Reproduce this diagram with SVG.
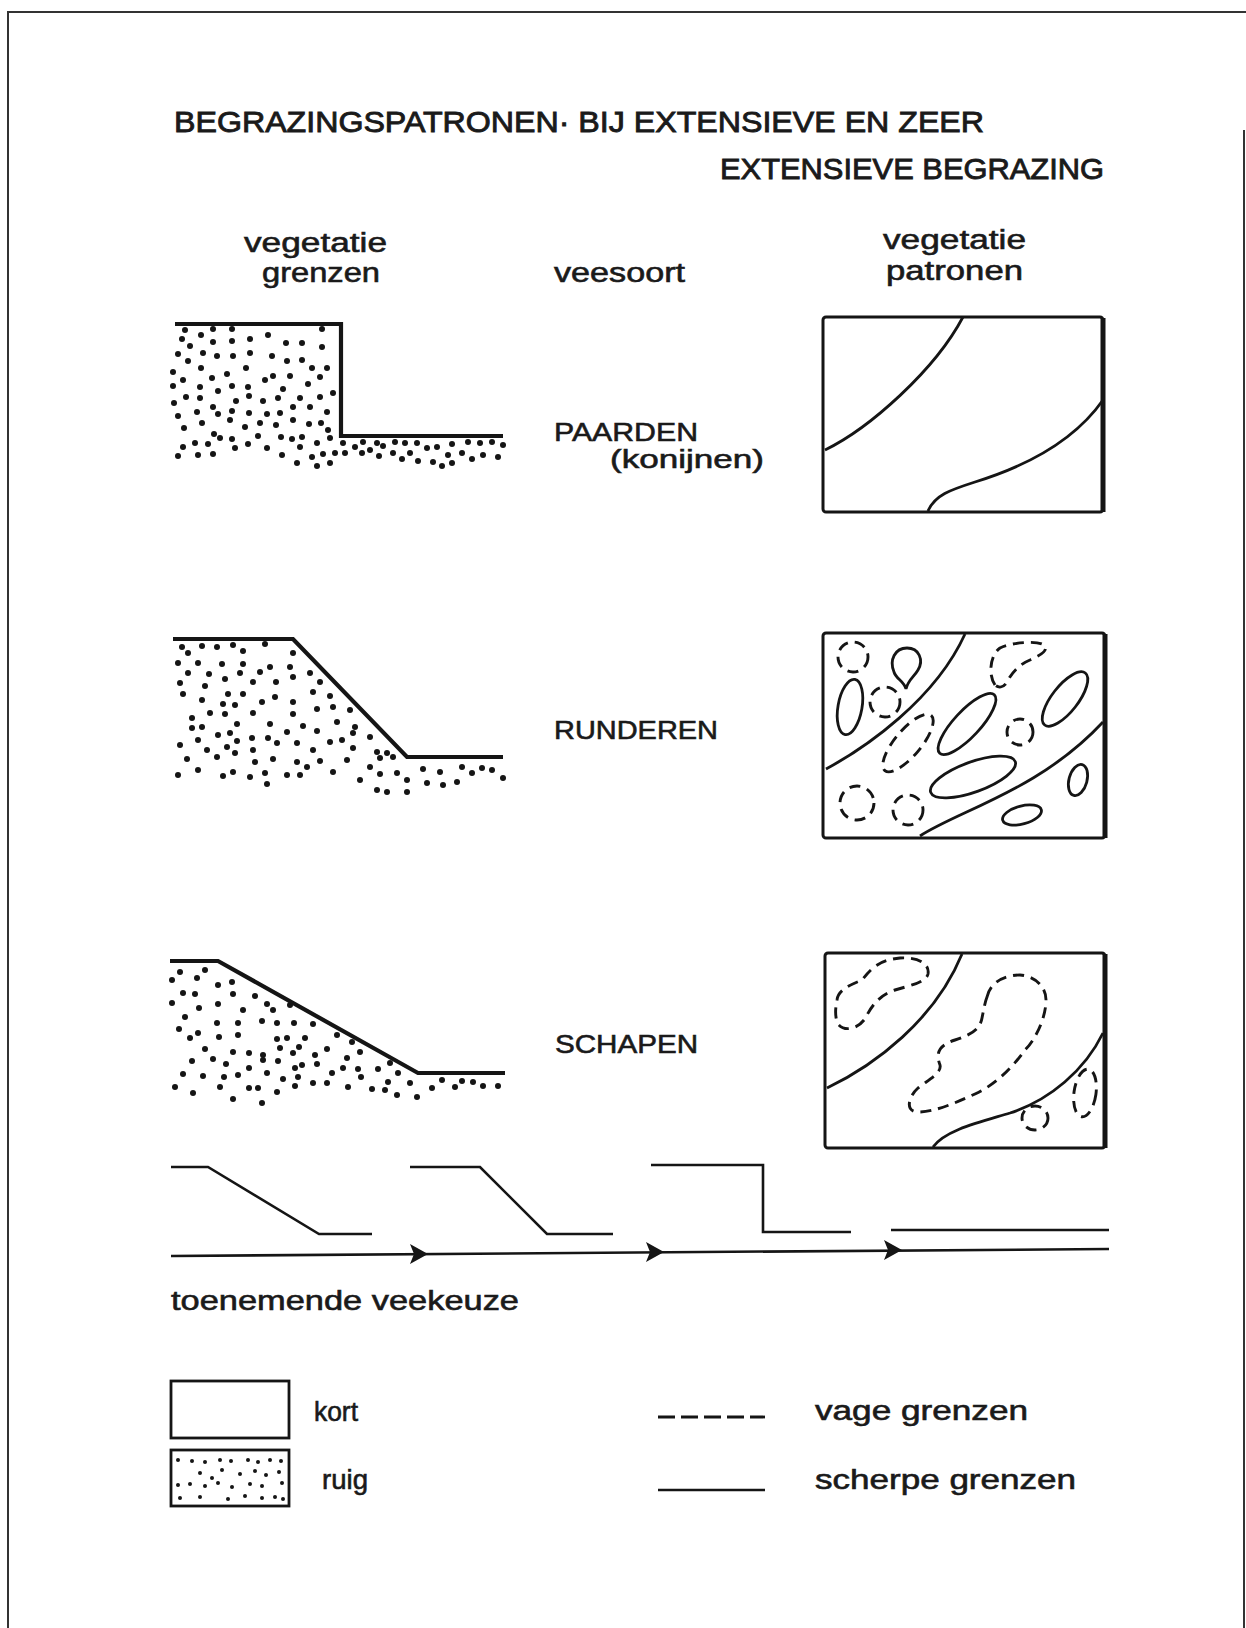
<svg xmlns="http://www.w3.org/2000/svg" width="1246" height="1628" viewBox="0 0 1246 1628">
<style>
text{font-family:"Liberation Sans","DejaVu Sans",sans-serif;fill:#1a1a1a;stroke:#1a1a1a;stroke-width:0.6}
.t{font-size:30px;stroke-width:0.9}
.h{font-size:27px}
.l{font-size:26px}
.prof{fill:none;stroke:#151515;stroke-width:4.2;stroke-linejoin:miter}
.thin{fill:none;stroke:#151515;stroke-width:2.6}
.box{fill:#fff;stroke:#151515;stroke-width:3}
.sol{fill:none;stroke:#151515;stroke-width:2.8}
.dsh{fill:none;stroke:#151515;stroke-width:2.9;stroke-dasharray:11 7}
.d circle{fill:#151515}
.border{fill:none;stroke:#333;stroke-width:2}
.arrow{fill:#151515}
</style>
<rect width="1246" height="1628" fill="#fff"/>
<g id="page-border">
<path class="border" d="M8,1628 V12 H1246"/>
<path class="border" d="M1244,130 V1628"/>
</g>
<g id="title">
<text class="t" x="174" y="132" textLength="810" lengthAdjust="spacingAndGlyphs">BEGRAZINGSPATRONEN· BIJ EXTENSIEVE EN ZEER</text>
<text class="t" x="720" y="179" textLength="384" lengthAdjust="spacingAndGlyphs">EXTENSIEVE BEGRAZING</text>
</g>
<g id="header-grenzen">
<text class="h" x="244" y="252" textLength="143" lengthAdjust="spacingAndGlyphs">vegetatie</text>
<text class="h" x="262" y="282" textLength="118" lengthAdjust="spacingAndGlyphs">grenzen</text>
</g>
<g id="header-veesoort">
<text class="h" x="554" y="282" textLength="131" lengthAdjust="spacingAndGlyphs">veesoort</text>
</g>
<g id="header-patronen">
<text class="h" x="883" y="249" textLength="143" lengthAdjust="spacingAndGlyphs">vegetatie</text>
<text class="h" x="886" y="280" textLength="137" lengthAdjust="spacingAndGlyphs">patronen</text>
</g>

<g id="profile-paarden">
<g class="d">
<circle cx="185" cy="330" r="3"/><circle cx="213" cy="329" r="3"/><circle cx="232" cy="329" r="3"/><circle cx="322" cy="329" r="3"/>
<circle cx="182" cy="339" r="3"/><circle cx="201" cy="335" r="3"/><circle cx="232" cy="341" r="3"/><circle cx="213" cy="342" r="3"/><circle cx="250" cy="339" r="3"/><circle cx="268" cy="335" r="3"/><circle cx="286" cy="343" r="3"/><circle cx="302" cy="343" r="3"/><circle cx="322" cy="347" r="3"/><circle cx="190" cy="346" r="3"/>
<circle cx="178" cy="354" r="3"/><circle cx="203" cy="353" r="3"/><circle cx="217" cy="356" r="3"/><circle cx="233" cy="356" r="3"/><circle cx="250" cy="353" r="3"/><circle cx="272" cy="356" r="3"/><circle cx="287" cy="361" r="3"/><circle cx="302" cy="360" r="3"/><circle cx="188" cy="361" r="3"/>
<circle cx="173" cy="372" r="3"/><circle cx="201" cy="368" r="3"/><circle cx="246" cy="368" r="3"/><circle cx="227" cy="374" r="3"/><circle cx="212" cy="378" r="3"/><circle cx="265" cy="380" r="3"/><circle cx="273" cy="376" r="3"/><circle cx="290" cy="376" r="3"/><circle cx="312" cy="368" r="3"/><circle cx="327" cy="368" r="3"/><circle cx="183" cy="380" r="3"/><circle cx="320" cy="377" r="3"/>
<circle cx="173" cy="386" r="3"/><circle cx="200" cy="387" r="3"/><circle cx="218" cy="391" r="3"/><circle cx="232" cy="386" r="3"/><circle cx="248" cy="387" r="3"/><circle cx="283" cy="389" r="3"/><circle cx="308" cy="384" r="3"/><circle cx="333" cy="393" r="3"/>
<circle cx="174" cy="403" r="3"/><circle cx="186" cy="397" r="3"/><circle cx="200" cy="398" r="3"/><circle cx="213" cy="407" r="3"/><circle cx="236" cy="401" r="3"/><circle cx="249" cy="396" r="3"/><circle cx="263" cy="401" r="3"/><circle cx="278" cy="398" r="3"/><circle cx="300" cy="398" r="3"/><circle cx="320" cy="397" r="3"/><circle cx="327" cy="412" r="3"/>
<circle cx="178" cy="416" r="3"/><circle cx="197" cy="412" r="3"/><circle cx="218" cy="414" r="3"/><circle cx="232" cy="411" r="3"/><circle cx="249" cy="413" r="3"/><circle cx="267" cy="414" r="3"/><circle cx="280" cy="413" r="3"/><circle cx="293" cy="407" r="3"/><circle cx="310" cy="407" r="3"/>
<circle cx="184" cy="428" r="3"/><circle cx="202" cy="423" r="3"/><circle cx="230" cy="420" r="3"/><circle cx="245" cy="427" r="3"/><circle cx="260" cy="423" r="3"/><circle cx="276" cy="425" r="3"/><circle cx="293" cy="420" r="3"/><circle cx="309" cy="424" r="3"/><circle cx="321" cy="423" r="3"/><circle cx="328" cy="430" r="3"/>
<circle cx="214" cy="434" r="3"/><circle cx="232" cy="439" r="3"/><circle cx="258" cy="436" r="3"/><circle cx="281" cy="437" r="3"/><circle cx="292" cy="439" r="3"/><circle cx="302" cy="437" r="3"/><circle cx="317" cy="443" r="3"/>
<circle cx="183" cy="447" r="3"/><circle cx="195" cy="443" r="3"/><circle cx="208" cy="444" r="3"/><circle cx="220" cy="438" r="3"/><circle cx="235" cy="448" r="3"/><circle cx="248" cy="444" r="3"/><circle cx="267" cy="448" r="3"/><circle cx="300" cy="447" r="3"/><circle cx="330" cy="438" r="3"/><circle cx="343" cy="443" r="3"/><circle cx="355" cy="447" r="3"/><circle cx="363" cy="442" r="3"/><circle cx="370" cy="450" r="3"/><circle cx="377" cy="443" r="3"/><circle cx="383" cy="446" r="3"/><circle cx="395" cy="442" r="3"/><circle cx="405" cy="443" r="3"/><circle cx="417" cy="443" r="3"/><circle cx="427" cy="448" r="3"/><circle cx="437" cy="447" r="3"/><circle cx="452" cy="444" r="3"/><circle cx="468" cy="442" r="3"/><circle cx="480" cy="443" r="3"/><circle cx="492" cy="442" r="3"/><circle cx="503" cy="445" r="3"/>
<circle cx="178" cy="456" r="3"/><circle cx="198" cy="455" r="3"/><circle cx="213" cy="454" r="3"/><circle cx="282" cy="455" r="3"/><circle cx="297" cy="463" r="3"/><circle cx="312" cy="457" r="3"/><circle cx="317" cy="466" r="3"/><circle cx="323" cy="454" r="3"/><circle cx="330" cy="463" r="3"/><circle cx="335" cy="453" r="3"/><circle cx="345" cy="453" r="3"/><circle cx="362" cy="453" r="3"/><circle cx="379" cy="456" r="3"/><circle cx="393" cy="453" r="3"/><circle cx="402" cy="459" r="3"/><circle cx="410" cy="453" r="3"/><circle cx="418" cy="461" r="3"/><circle cx="433" cy="462" r="3"/><circle cx="442" cy="466" r="3"/><circle cx="448" cy="455" r="3"/><circle cx="452" cy="463" r="3"/><circle cx="462" cy="453" r="3"/><circle cx="472" cy="459" r="3"/><circle cx="483" cy="455" r="3"/><circle cx="498" cy="457" r="3"/>
</g>
<path class="prof" d="M175,324 H341 V436 H503"/>
</g>
<g id="label-paarden">
<text class="l" x="554" y="441" textLength="144" lengthAdjust="spacingAndGlyphs">PAARDEN</text>
<text class="l" x="610" y="468" textLength="154" lengthAdjust="spacingAndGlyphs">(konijnen)</text>
</g>
<g id="pattern-paarden">
<rect class="box" x="823" y="317" width="280" height="195" rx="3"/>
<path d="M1103,318 V512" stroke="#151515" stroke-width="5"/>
<path class="sol" d="M825,450 C870,428 935,370 963,317"/>
<path class="sol" d="M928,511 C935,495 950,490 975,482 C1030,465 1075,440 1103,400"/>
</g>

<g id="profile-runderen">
<g class="d">
<circle cx="182" cy="647" r="3"/><circle cx="202" cy="646" r="3"/><circle cx="217" cy="647" r="3"/><circle cx="233" cy="645" r="3"/><circle cx="243" cy="651" r="3"/><circle cx="265" cy="644" r="3"/><circle cx="188" cy="653" r="3"/><circle cx="293" cy="653" r="3"/>
<circle cx="178" cy="663" r="3"/><circle cx="198" cy="663" r="3"/><circle cx="222" cy="664" r="3"/><circle cx="243" cy="664" r="3"/><circle cx="260" cy="672" r="3"/><circle cx="270" cy="667" r="3"/><circle cx="290" cy="667" r="3"/><circle cx="310" cy="673" r="3"/>
<circle cx="188" cy="673" r="3"/><circle cx="209" cy="674" r="3"/><circle cx="225" cy="679" r="3"/><circle cx="240" cy="673" r="3"/><circle cx="253" cy="682" r="3"/><circle cx="276" cy="682" r="3"/><circle cx="293" cy="677" r="3"/><circle cx="320" cy="682" r="3"/>
<circle cx="180" cy="683" r="3"/><circle cx="205" cy="686" r="3"/><circle cx="228" cy="694" r="3"/><circle cx="243" cy="694" r="3"/><circle cx="262" cy="702" r="3"/><circle cx="275" cy="697" r="3"/><circle cx="293" cy="702" r="3"/><circle cx="313" cy="692" r="3"/><circle cx="330" cy="696" r="3"/>
<circle cx="183" cy="694" r="3"/><circle cx="202" cy="700" r="3"/><circle cx="223" cy="704" r="3"/><circle cx="235" cy="705" r="3"/><circle cx="253" cy="713" r="3"/><circle cx="270" cy="724" r="3"/><circle cx="293" cy="714" r="3"/><circle cx="317" cy="709" r="3"/><circle cx="333" cy="707" r="3"/><circle cx="350" cy="710" r="3"/>
<circle cx="192" cy="718" r="3"/><circle cx="210" cy="713" r="3"/><circle cx="225" cy="714" r="3"/><circle cx="237" cy="724" r="3"/><circle cx="287" cy="732" r="3"/><circle cx="303" cy="726" r="3"/><circle cx="317" cy="731" r="3"/><circle cx="337" cy="722" r="3"/><circle cx="355" cy="727" r="3"/>
<circle cx="192" cy="728" r="3"/><circle cx="202" cy="727" r="3"/><circle cx="218" cy="735" r="3"/><circle cx="230" cy="733" r="3"/><circle cx="252" cy="738" r="3"/><circle cx="268" cy="738" r="3"/><circle cx="297" cy="743" r="3"/><circle cx="313" cy="750" r="3"/><circle cx="330" cy="742" r="3"/><circle cx="342" cy="740" r="3"/><circle cx="353" cy="733" r="3"/><circle cx="370" cy="737" r="3"/>
<circle cx="180" cy="745" r="3"/><circle cx="198" cy="740" r="3"/><circle cx="207" cy="750" r="3"/><circle cx="227" cy="747" r="3"/><circle cx="237" cy="741" r="3"/><circle cx="253" cy="750" r="3"/><circle cx="277" cy="743" r="3"/><circle cx="353" cy="748" r="3"/><circle cx="377" cy="752" r="3"/><circle cx="387" cy="753" r="3"/>
<circle cx="187" cy="759" r="3"/><circle cx="217" cy="757" r="3"/><circle cx="235" cy="753" r="3"/><circle cx="255" cy="762" r="3"/><circle cx="273" cy="759" r="3"/><circle cx="297" cy="762" r="3"/><circle cx="320" cy="761" r="3"/><circle cx="347" cy="760" r="3"/><circle cx="370" cy="767" r="3"/><circle cx="380" cy="758" r="3"/><circle cx="393" cy="757" r="3"/>
<circle cx="178" cy="775" r="3"/><circle cx="198" cy="770" r="3"/><circle cx="223" cy="776" r="3"/><circle cx="233" cy="772" r="3"/><circle cx="250" cy="777" r="3"/><circle cx="265" cy="773" r="3"/><circle cx="267" cy="784" r="3"/><circle cx="287" cy="775" r="3"/><circle cx="300" cy="775" r="3"/><circle cx="307" cy="767" r="3"/><circle cx="333" cy="772" r="3"/><circle cx="360" cy="780" r="3"/><circle cx="380" cy="774" r="3"/><circle cx="397" cy="773" r="3"/><circle cx="407" cy="780" r="3"/><circle cx="423" cy="769" r="3"/><circle cx="440" cy="772" r="3"/><circle cx="462" cy="767" r="3"/><circle cx="472" cy="773" r="3"/><circle cx="482" cy="768" r="3"/><circle cx="492" cy="770" r="3"/><circle cx="503" cy="778" r="3"/>
<circle cx="377" cy="790" r="3"/><circle cx="387" cy="792" r="3"/><circle cx="407" cy="792" r="3"/><circle cx="427" cy="783" r="3"/><circle cx="443" cy="785" r="3"/><circle cx="457" cy="782" r="3"/>
</g>
<path class="prof" d="M173,639 H293 L407,757 H503"/>
</g>
<g id="label-runderen">
<text class="l" x="554" y="739" textLength="164" lengthAdjust="spacingAndGlyphs">RUNDEREN</text>
</g>
<g id="pattern-runderen">
<rect class="box" x="823" y="633" width="282" height="205" rx="3"/>
<path d="M1105,634 V838" stroke="#151515" stroke-width="5"/>
<path class="sol" d="M826,769 C865,748 935,700 965,634"/>
<path class="sol" d="M920,836 C960,810 1040,790 1103,722"/>
<circle class="dsh" cx="853" cy="657" r="15"/>
<path class="sol" d="M906,689 C904,681 896,679 894,672 C889,660 895,648 907,648 C919,648 924,660 918,670 C914,677 908,680 906,689 Z"/>
<ellipse class="sol" cx="850" cy="707" rx="12" ry="28" transform="rotate(10 850 707)"/>
<circle class="dsh" cx="885" cy="702" r="15"/>
<ellipse class="dsh" cx="908" cy="743" rx="36" ry="13" transform="rotate(-50 908 743)"/>
<ellipse class="sol" cx="967" cy="724" rx="40" ry="13" transform="rotate(-47 967 724)"/>
<path class="dsh" d="M995,685 C988,675 990,655 1000,648 C1012,642 1040,640 1045,646 C1048,652 1038,656 1030,660 C1020,664 1012,672 1007,682 C1004,688 998,688 995,685 Z"/>
<ellipse class="sol" cx="1065" cy="699" rx="33" ry="13" transform="rotate(-52 1065 699)"/>
<circle class="dsh" cx="1020" cy="732" r="13"/>
<ellipse class="sol" cx="973" cy="777" rx="45" ry="15" transform="rotate(-20 973 777)"/>
<circle class="dsh" cx="857" cy="803" r="17"/>
<circle class="dsh" cx="908" cy="810" r="15"/>
<ellipse class="sol" cx="1078" cy="780" rx="9" ry="16" transform="rotate(15 1078 780)"/>
<ellipse class="sol" cx="1022" cy="815" rx="20" ry="9" transform="rotate(-15 1022 815)"/>
</g>

<g id="profile-schapen">
<g class="d">
<circle cx="180" cy="972" r="3"/><circle cx="205" cy="970" r="3"/><circle cx="172" cy="980" r="3"/><circle cx="197" cy="978" r="3"/><circle cx="218" cy="985" r="3"/><circle cx="232" cy="982" r="3"/>
<circle cx="183" cy="993" r="3"/><circle cx="195" cy="994" r="3"/><circle cx="233" cy="994" r="3"/><circle cx="255" cy="996" r="3"/><circle cx="267" cy="1004" r="3"/><circle cx="273" cy="1010" r="3"/>
<circle cx="172" cy="1003" r="3"/><circle cx="199" cy="1008" r="3"/><circle cx="218" cy="1004" r="3"/><circle cx="243" cy="1010" r="3"/><circle cx="290" cy="1005" r="3"/>
<circle cx="185" cy="1017" r="3"/><circle cx="217" cy="1023" r="3"/><circle cx="238" cy="1023" r="3"/><circle cx="262" cy="1021" r="3"/><circle cx="277" cy="1023" r="3"/><circle cx="294" cy="1023" r="3"/><circle cx="313" cy="1024" r="3"/>
<circle cx="179" cy="1029" r="3"/><circle cx="198" cy="1033" r="3"/><circle cx="190" cy="1038" r="3"/><circle cx="219" cy="1037" r="3"/><circle cx="238" cy="1035" r="3"/><circle cx="277" cy="1039" r="3"/><circle cx="287" cy="1038" r="3"/><circle cx="305" cy="1038" r="3"/><circle cx="337" cy="1035" r="3"/><circle cx="352" cy="1042" r="3"/>
<circle cx="205" cy="1049" r="3"/><circle cx="233" cy="1052" r="3"/><circle cx="249" cy="1053" r="3"/><circle cx="263" cy="1055" r="3"/><circle cx="280" cy="1048" r="3"/><circle cx="293" cy="1053" r="3"/><circle cx="299" cy="1047" r="3"/><circle cx="315" cy="1055" r="3"/><circle cx="327" cy="1049" r="3"/><circle cx="360" cy="1052" r="3"/>
<circle cx="192" cy="1061" r="3"/><circle cx="213" cy="1059" r="3"/><circle cx="226" cy="1064" r="3"/><circle cx="249" cy="1068" r="3"/><circle cx="263" cy="1060" r="3"/><circle cx="278" cy="1061" r="3"/><circle cx="295" cy="1068" r="3"/><circle cx="302" cy="1065" r="3"/><circle cx="317" cy="1064" r="3"/><circle cx="347" cy="1058" r="3"/><circle cx="343" cy="1068" r="3"/><circle cx="358" cy="1069" r="3"/><circle cx="378" cy="1069" r="3"/><circle cx="390" cy="1063" r="3"/><circle cx="398" cy="1073" r="3"/>
<circle cx="183" cy="1074" r="3"/><circle cx="203" cy="1076" r="3"/><circle cx="224" cy="1077" r="3"/><circle cx="238" cy="1075" r="3"/><circle cx="267" cy="1073" r="3"/><circle cx="283" cy="1079" r="3"/><circle cx="298" cy="1077" r="3"/><circle cx="332" cy="1073" r="3"/><circle cx="361" cy="1077" r="3"/><circle cx="388" cy="1082" r="3"/><circle cx="410" cy="1083" r="3"/>
<circle cx="175" cy="1087" r="3"/><circle cx="220" cy="1087" r="3"/><circle cx="249" cy="1088" r="3"/><circle cx="258" cy="1088" r="3"/><circle cx="277" cy="1092" r="3"/><circle cx="295" cy="1086" r="3"/><circle cx="313" cy="1083" r="3"/><circle cx="327" cy="1083" r="3"/><circle cx="348" cy="1087" r="3"/><circle cx="372" cy="1089" r="3"/><circle cx="385" cy="1090" r="3"/><circle cx="397" cy="1095" r="3"/><circle cx="417" cy="1097" r="3"/><circle cx="432" cy="1088" r="3"/><circle cx="442" cy="1080" r="3"/><circle cx="455" cy="1087" r="3"/><circle cx="462" cy="1081" r="3"/><circle cx="473" cy="1082" r="3"/><circle cx="483" cy="1086" r="3"/><circle cx="498" cy="1086" r="3"/>
<circle cx="193" cy="1093" r="3"/><circle cx="233" cy="1099" r="3"/><circle cx="262" cy="1103" r="3"/>
</g>
<path class="prof" d="M170,961 H218 L418,1073 H505"/>
</g>
<g id="label-schapen">
<text class="l" x="555" y="1053" textLength="143" lengthAdjust="spacingAndGlyphs">SCHAPEN</text>
</g>
<g id="pattern-schapen">
<rect class="box" x="825" y="953" width="280" height="195" rx="3"/>
<path d="M1105,954 V1148" stroke="#151515" stroke-width="5"/>
<path class="sol" d="M827,1088 C875,1065 935,1020 962,954"/>
<path class="sol" d="M933,1147 C945,1130 980,1122 1010,1113 C1050,1100 1085,1070 1103,1033"/>
<path class="dsh" d="M837,1000 C838,990 850,985 862,980 C870,970 878,960 900,958 C915,957 930,962 928,974 C926,982 912,985 895,990 C880,995 872,1005 866,1017 C860,1028 845,1033 838,1024 C834,1015 836,1006 837,1000 Z"/>
<path class="dsh" d="M987,997 C990,982 1005,975 1020,975 C1035,976 1047,987 1046,1002 C1045,1020 1035,1040 1025,1050 C1012,1068 995,1085 975,1094 C955,1103 935,1112 918,1112 C905,1112 908,1097 918,1088 C928,1080 942,1073 940,1065 C935,1052 940,1045 955,1040 C970,1035 980,1030 982,1018 C984,1008 985,1002 987,997 Z"/>
<ellipse class="dsh" cx="1035" cy="1118" rx="13" ry="12"/>
<ellipse class="dsh" cx="1085" cy="1093" rx="11" ry="24" transform="rotate(8 1085 1093)"/>
</g>

<g id="gradient-profiles">
<path class="thin" d="M171,1167 H208 L319,1234 H372"/>
<path class="thin" d="M410,1167 H480 L547,1234 H613"/>
<path class="thin" d="M651,1165 H763 V1232 H851"/>
<path class="thin" d="M891,1230 H1109"/>
</g>
<g id="connectors">
<path class="thin" d="M171,1256 L1109,1249"/>
<path class="arrow" d="M428,1254 L410,1244 L414,1254 L410,1264 Z"/>
<path class="arrow" d="M664,1252 L646,1242 L650,1252 L646,1262 Z"/>
<path class="arrow" d="M902,1250 L884,1240 L888,1250 L884,1260 Z"/>
</g>
<g id="label-veekeuze">
<text class="h" x="171" y="1310" textLength="348" lengthAdjust="spacingAndGlyphs">toenemende veekeuze</text>
</g>

<g id="legend-kort">
<rect x="171" y="1381" width="118" height="57" fill="#fff" stroke="#151515" stroke-width="2.8"/>
<text class="h" x="314" y="1421" textLength="44" lengthAdjust="spacingAndGlyphs">kort</text>
</g>
<g id="legend-ruig">
<rect x="171" y="1450" width="118" height="56" fill="#fff" stroke="#151515" stroke-width="2.8"/>
<g class="d">
<circle cx="178" cy="1460" r="2"/><circle cx="192" cy="1461" r="2"/><circle cx="205" cy="1462" r="2"/><circle cx="220" cy="1460" r="2"/><circle cx="231" cy="1461" r="2"/><circle cx="248" cy="1460" r="2"/><circle cx="258" cy="1462" r="2"/><circle cx="270" cy="1460" r="2"/><circle cx="281" cy="1461" r="2"/>
<circle cx="200" cy="1473" r="2"/><circle cx="222" cy="1470" r="2"/><circle cx="240" cy="1474" r="2"/><circle cx="255" cy="1471" r="2"/><circle cx="266" cy="1475" r="2"/><circle cx="279" cy="1472" r="2"/><circle cx="212" cy="1478" r="2"/>
<circle cx="178" cy="1485" r="2"/><circle cx="190" cy="1484" r="2"/><circle cx="205" cy="1486" r="2"/><circle cx="218" cy="1483" r="2"/><circle cx="232" cy="1487" r="2"/><circle cx="250" cy="1484" r="2"/><circle cx="262" cy="1486" r="2"/><circle cx="282" cy="1483" r="2"/>
<circle cx="180" cy="1498" r="2"/><circle cx="200" cy="1497" r="2"/><circle cx="228" cy="1499" r="2"/><circle cx="245" cy="1496" r="2"/><circle cx="262" cy="1498" r="2"/><circle cx="275" cy="1497" r="2"/><circle cx="283" cy="1499" r="2"/>
</g>
<text class="h" x="322" y="1489" textLength="46" lengthAdjust="spacingAndGlyphs">ruig</text>
</g>
<g id="legend-vage">
<path d="M658,1417 H765" stroke="#151515" stroke-width="2.8" stroke-dasharray="17 6"/>
<text class="h" x="815" y="1420" textLength="213" lengthAdjust="spacingAndGlyphs">vage grenzen</text>
</g>
<g id="legend-scherpe">
<path d="M658,1490 H765" stroke="#151515" stroke-width="2.4"/>
<text class="h" x="815" y="1489" textLength="261" lengthAdjust="spacingAndGlyphs">scherpe grenzen</text>
</g>
</svg>
